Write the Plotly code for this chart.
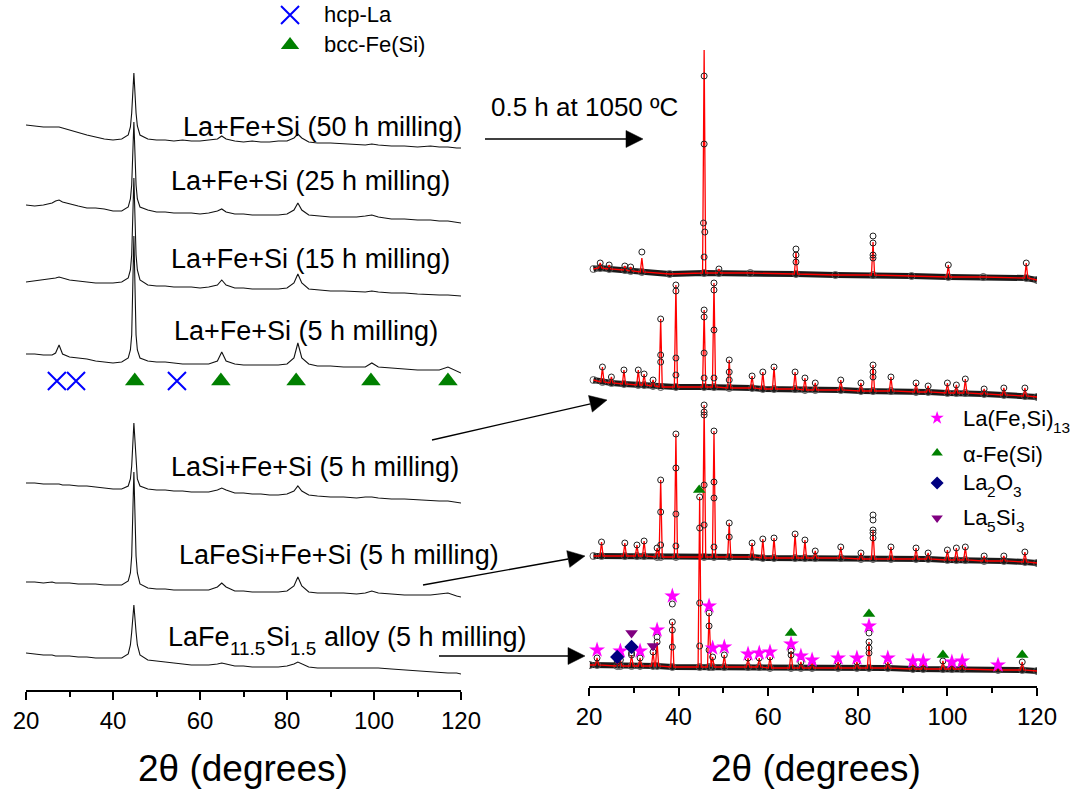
import numpy as np
import plotly.graph_objects as go

W, H = 1076, 796
FONT = "Liberation Sans, Arial, sans-serif"

# ---------------- Left panel: as-milled patterns (shared 2theta grid) ----------------
XL = [20, 22, 24, 26, 26.8, 27.6, 28.4, 30, 32, 34, 36, 38, 40, 42, 43.5, 44.0, 44.3, 44.8, 45.3, 45.6,
      46.2, 48, 50, 52, 54, 56, 58, 60, 62, 64, 65, 66, 68, 70, 72, 74, 76, 78, 80, 81.6,
      82.5, 83.4, 85, 87, 90, 93, 96, 98, 99.5, 101, 104, 107, 110, 113, 115, 117, 119, 120]

I_50H = [25, 24, 23, 23, 23, 23, 22, 20, 17, 15, 13, 11, 10, 11, 15, 23, 37, 77, 37, 24,
         15, 11, 10, 10, 9, 10, 9, 9, 10, 11, 14, 11, 9, 8, 9, 8, 8, 9, 9, 12,
         16, 12, 8, 7, 7, 6, 5, 5, 6, 5, 4, 4, 3, 4, 3, 3, 2, 2]
I_25H = [20, 19, 20, 22, 24, 25, 23, 21, 19, 17, 17, 16, 14, 14, 18, 26, 40, 103, 40, 26,
         18, 15, 13, 13, 12, 12, 12, 11, 12, 14, 16, 13, 11, 11, 10, 10, 10, 10, 11, 15,
         22, 15, 10, 9, 8, 8, 8, 9, 10, 8, 6, 6, 5, 5, 4, 4, 3, 2]
I_15H = [16, 17, 18, 19, 20, 21, 20, 18, 17, 16, 15, 15, 15, 16, 20, 28, 43, 120, 43, 28,
         18, 13, 12, 12, 11, 11, 11, 10, 11, 13, 18, 13, 10, 10, 9, 9, 9, 9, 10, 15,
         24, 15, 9, 8, 7, 7, 6, 6, 7, 6, 5, 5, 4, 3, 3, 3, 2, 2]
I_5H = [21, 21, 20, 20, 22, 30, 21, 18, 17, 16, 14, 13, 12, 13, 17, 25, 40, 139, 40, 25,
        17, 14, 13, 13, 12, 11, 11, 11, 11, 14, 23, 14, 11, 10, 10, 10, 10, 10, 11, 17,
        32, 17, 11, 9, 9, 8, 8, 8, 12, 8, 7, 6, 5, 5, 5, 8, 4, 2]
I_LASI = [22, 22, 21, 21, 21, 21, 20, 20, 19, 19, 18, 17, 16, 16, 19, 26, 39, 82, 39, 26,
          19, 16, 15, 15, 14, 14, 13, 13, 13, 15, 17, 15, 12, 12, 11, 11, 10, 10, 11, 14,
          19, 14, 10, 9, 8, 8, 7, 8, 8, 7, 6, 6, 5, 4, 4, 4, 3, 2]
I_LAFESI = [18, 18, 17, 18, 17, 17, 17, 17, 16, 16, 16, 15, 15, 15, 19, 27, 44, 128, 44, 27,
            16, 12, 11, 11, 10, 10, 10, 10, 10, 13, 17, 13, 9, 9, 8, 8, 8, 8, 9, 14,
            23, 14, 8, 7, 7, 7, 6, 7, 9, 7, 6, 5, 5, 5, 6, 7, 4, 3]
I_ALLOY = [23, 22, 21, 21, 20, 20, 20, 20, 19, 19, 18, 18, 18, 18, 22, 31, 44, 71, 44, 31,
           21, 16, 15, 14, 13, 12, 11, 11, 11, 12, 13, 12, 10, 10, 9, 9, 9, 9, 10, 12,
           14, 12, 9, 8, 8, 8, 8, 8, 8, 8, 7, 6, 5, 4, 4, 3, 3, 2]

LEFT_SERIES = [I_50H, I_25H, I_15H, I_5H, I_LASI, I_LAFESI, I_ALLOY]
LEFT_OFFSETS = [540, 465, 392, 315, 185, 90, 14]
# label pieces: (text, is_subscript)
LEFT_LABELS = [
    [("La+Fe+Si (50 h milling)", False)],
    [("La+Fe+Si (25 h milling)", False)],
    [("La+Fe+Si (15 h milling)", False)],
    [("La+Fe+Si (5 h milling)", False)],
    [("LaSi+Fe+Si (5 h milling)", False)],
    [("LaFeSi+Fe+Si (5 h milling)", False)],
    [("LaFe", False), ("11.5", True), ("Si", False), ("1.5", True), (" alloy (5 h milling)", False)],
]

# reflection markers (left)
HCP_LA_POS = [27.1, 31.5, 54.7]
BCC_FE_POS = [45.0, 64.8, 82.1, 99.3, 117.0]

# ---------------- Right panel: annealed patterns ----------------
# A: 0.5 h at 1050 C
A_BG_X = [21, 38, 56, 75, 92, 108, 120]
A_BG_I = [13, 8, 9, 7, 6, 5, 2]
A_PK_X = [22.5, 24.5, 28.0, 29.3, 31.8, 45.7, 49.0, 66.2, 83.4, 100.2, 117.6]
A_PK_BG = [14, 13, 12, 11, 10, 9, 9, 8, 7, 5, 4]
A_PK_TOP = [19, 17, 16, 15, 24, 232, 13, 30, 40, 17, 19]
A_OBS_X = [22.5, 24.5, 28.0, 29.3, 31.8, 45.7, 45.7, 45.55, 45.85, 45.7, 49.0, 66.2, 66.2, 66.2,
           83.4, 83.4, 83.4, 83.4, 100.2, 117.6]
A_OBS_I = [19, 17, 16, 15, 30, 206, 138, 59, 50, 25, 13, 33, 27, 20, 46, 39, 27, 24, 17, 19]

# B
B_BG_X = [21, 120]
B_BG_I = [20, 3]
B_PK_X = [23.0, 25.0, 27.8, 31.0, 32.3, 34.3, 36.0, 39.4, 45.7, 47.9, 51.3, 56.4, 58.8, 61.3, 66.0,
          68.2, 70.5, 76.2, 80.7, 83.4, 87.4, 93.0, 95.7, 100.0, 102.0, 104.0, 108.2, 112.6, 117.3]
B_PK_BG = [18, 17, 16, 15, 15, 14, 13, 13, 13, 13, 12, 12, 11, 11, 11,
           10, 10, 10, 9, 9, 9, 8, 8, 7, 7, 7, 6, 5, 4]
B_PK_TOP = [33, 23, 30, 30, 26, 20, 81, 115, 90, 117, 40, 24, 28, 33, 28,
            22, 17, 20, 17, 35, 23, 17, 14, 17, 15, 21, 11, 12, 12]
B_OBS_X = [36.0, 36.0, 39.4, 39.4, 39.4, 45.7, 45.7, 45.7, 47.9, 47.9, 47.9, 51.3, 51.3, 83.4, 83.4]
B_OBS_I = [45, 38, 109, 42, 25, 83, 47, 22, 110, 70, 22, 28, 20, 28, 23]

# C
C_BG_X = [21, 120]
C_BG_I = [10, 3]
C_PK_X = [22.8, 28.0, 30.7, 32.3, 35.2, 36.0, 39.4, 45.7, 47.9, 51.3, 56.4, 58.8, 61.3, 66.0,
          68.2, 70.5, 76.2, 80.7, 83.4, 87.4, 93.0, 95.7, 100.0, 102.0, 104.0, 108.2, 112.6, 117.3]
C_PK_BG = [10, 10, 10, 10, 9, 9, 9, 9, 9, 9, 9, 8, 8, 8,
           8, 8, 8, 7, 7, 7, 7, 7, 6, 6, 6, 5, 5, 4]
C_PK_TOP = [24, 23, 21, 25, 18, 86, 132, 161, 135, 43, 23, 27, 28, 32,
            26, 15, 19, 13, 36, 19, 18, 13, 16, 18, 19, 10, 10, 14]
C_OBS_X = [36.0, 36.0, 39.4, 39.4, 39.4, 45.7, 45.7, 45.7, 45.7, 47.9, 47.9, 47.9, 51.3,
           83.4, 83.4, 83.4, 83.4]
C_OBS_I = [54, 21, 98, 52, 20, 154, 151, 81, 41, 84, 68, 19, 29, 51, 46, 33, 28]

# D: LaFe11.5Si1.5 alloy annealed
D_BG_X = [20.2, 120]
D_BG_I = [9, 3]
D_PK_X = [21.8, 26.3, 27.0, 29.5, 31.4, 34.3, 35.2, 38.6, 44.7, 46.8, 47.6, 50.2, 55.5, 58.0, 60.4,
          65.1, 67.3, 69.8, 75.6, 79.8, 82.5, 86.7, 92.3, 94.6, 99.0, 101.0, 103.3, 111.3, 116.7]
D_PK_BG = [9, 8, 8, 8, 8, 8, 8, 7, 7, 7, 7, 7, 7, 7, 6,
           6, 6, 6, 6, 6, 6, 6, 5, 5, 5, 5, 5, 4, 4]
D_PK_TOP = [16, 12, 14, 19, 16, 22, 32, 52, 177, 61, 17, 19, 16, 16, 17,
            23, 12, 11, 12, 12, 32, 12, 10, 10, 13, 10, 10, 8, 12]
D_OBS_X = [29.5, 35.2, 38.6, 38.6, 38.6, 44.7, 44.7, 44.7, 46.8, 46.8, 65.1, 82.5, 82.5, 82.5]
D_OBS_I = [21, 37, 70, 44, 27, 146, 71, 28, 48, 24, 19, 41, 26, 21]

RIGHT_OFFSETS = [404, 286, 120, 12]

# phase markers on pattern D (heights in pattern-D intensity units)
STAR_X = [21.8, 27.0, 31.4, 35.2, 38.6, 46.8, 47.6, 50.2, 55.5, 58.0, 60.4, 65.1, 67.3, 69.8,
          75.6, 79.8, 82.5, 86.7, 92.3, 94.6, 101.0, 103.3, 111.3]
STAR_I = [24, 23, 23, 44, 78, 68, 26, 27, 20, 21, 22, 30, 18, 14, 16, 16, 48, 16, 13, 13, 12, 13, 9]
FE_X = [44.6, 65.1, 82.5, 99.0, 116.7]
FE_I = [184, 41, 60, 19, 19]
LA2O3_X = [26.3, 29.5]
LA2O3_I = [17, 27]
LA5SI3_X = [29.5, 34.3]
LA5SI3_I = [41, 28]

RIGHT_LEGEND = [
    [("La(Fe,Si)", False), ("13", True)],
    [("α-Fe(Si)", False)],
    [("La", False), ("2", True), ("O", False), ("3", True)],
    [("La", False), ("5", True), ("Si", False), ("3", True)],
]

MAGENTA, GREEN, BLUE, NAVY, PURPLE = "#FF00FF", "#008000", "#0000FF", "#000080", "#800080"

# Arial / Liberation Sans advance widths (em) for the characters used in split labels
CW = {'L': .556, 'a': .556, 'F': .611, 'e': .556, 'S': .667, 'i': .222, 'O': .778, '(': .333, ')': .333,
      ',': .278, '.': .278, ' ': .278, 'l': .222, 'o': .556, 'y': .5, 'h': .556, 'm': .833, 'n': .556,
      'g': .556, '+': .584, '-': .333, 'α': .578}
for d in "0123456789":
    CW[d] = .556


def px(x):
    return x / W


def py(y):
    return 1 - y / H


def rich_text(pieces, x0, yc, size, sub_drop):
    out = []
    x = x0
    for txt, sub in pieces:
        s = size * 0.7 if sub else size
        lead = len(txt) - len(txt.lstrip(" "))
        x += lead * CW[' '] * s
        t = txt.strip(" ")
        out.append(dict(text=t, x=px(x), y=py(yc + (sub_drop if sub else 0)), xref="paper", yref="paper",
                        xanchor="left", yanchor="middle", showarrow=False, borderpad=0,
                        font=dict(family=FONT, size=s, color="black")))
        x += sum(CW.get(c, .556) for c in t) * s
    return out


fig = go.Figure()

# ---- left curves
for ints, off in zip(LEFT_SERIES, LEFT_OFFSETS):
    fig.add_trace(go.Scatter(x=XL, y=[off + v for v in ints], mode="lines",
                             line=dict(color="#111111", width=1.1), xaxis="x", yaxis="y",
                             hoverinfo="skip"))

# reflection markers row (left)
ROW_Y = 309
XMARK = dict(symbol="x-thin-open", size=18, color=BLUE, line=dict(color=BLUE, width=2))
fig.add_trace(go.Scatter(x=HCP_LA_POS, y=[ROW_Y] * len(HCP_LA_POS), mode="markers",
                         marker=XMARK, xaxis="x", yaxis="y"))
fig.add_trace(go.Scatter(x=BCC_FE_POS, y=[ROW_Y] * len(BCC_FE_POS), mode="markers",
                         marker=dict(symbol="triangle-up", size=17, color=GREEN), xaxis="x", yaxis="y"))

# top-left legend markers
fig.add_trace(go.Scatter(x=[80.7], y=[675], mode="markers", marker=XMARK,
                         xaxis="x", yaxis="y", cliponaxis=False))
fig.add_trace(go.Scatter(x=[80.7], y=[645], mode="markers",
                         marker=dict(symbol="triangle-up", size=16, color=GREEN),
                         xaxis="x", yaxis="y", cliponaxis=False))

# ---- right patterns
RIGHT = [
    (A_BG_X, A_BG_I, A_PK_X, A_PK_BG, A_PK_TOP, A_OBS_X, A_OBS_I, False),
    (B_BG_X, B_BG_I, B_PK_X, B_PK_BG, B_PK_TOP, B_OBS_X, B_OBS_I, True),
    (C_BG_X, C_BG_I, C_PK_X, C_PK_BG, C_PK_TOP, C_OBS_X, C_OBS_I, True),
    (D_BG_X, D_BG_I, D_PK_X, D_PK_BG, D_PK_TOP, D_OBS_X, D_OBS_I, True),
]
HW = 0.35
for (bgx, bgi, pkx, pkb, pkt, obx, obi, tops), off in zip(RIGHT, RIGHT_OFFSETS):
    band = sorted(list(zip(bgx, bgi)) + list(zip(pkx, pkb)))
    fit = list(zip(bgx, bgi))
    for p, b, t in zip(pkx, pkb, pkt):
        fit += [(p - HW, b), (p, t), (p + HW, b)]
    fit.sort()
    fig.add_trace(go.Scatter(x=[a for a, _ in band], y=[off + b for _, b in band], mode="lines+markers",
                             line=dict(color="#1a1a1a", width=6),
                             marker=dict(symbol="circle-open", size=7, color="#555555", line=dict(width=1)),
                             xaxis="x2", yaxis="y2"))
    fig.add_trace(go.Scatter(x=[a for a, _ in fit], y=[off + b for _, b in fit], mode="lines",
                             line=dict(color="#FF0000", width=1.3), xaxis="x2", yaxis="y2"))
    cx = (list(pkx) if tops else []) + list(obx)
    cy = (list(pkt) if tops else []) + list(obi)
    fig.add_trace(go.Scatter(x=cx, y=[off + v for v in cy], mode="markers",
                             marker=dict(symbol="circle-open", size=6, color="#222222", line=dict(width=1)),
                             xaxis="x2", yaxis="y2"))

offD = RIGHT_OFFSETS[3]
fig.add_trace(go.Scatter(x=STAR_X, y=[offD + v for v in STAR_I], mode="markers",
                         marker=dict(symbol="star", size=12, color=MAGENTA), xaxis="x2", yaxis="y2"))
fig.add_trace(go.Scatter(x=FE_X, y=[offD + v for v in FE_I], mode="markers",
                         marker=dict(symbol="triangle-up", size=11, color=GREEN), xaxis="x2", yaxis="y2"))
fig.add_trace(go.Scatter(x=LA2O3_X, y=[offD + v for v in LA2O3_I], mode="markers",
                         marker=dict(symbol="diamond", size=11, color=NAVY), xaxis="x2", yaxis="y2"))
fig.add_trace(go.Scatter(x=LA5SI3_X, y=[offD + v for v in LA5SI3_I], mode="markers",
                         marker=dict(symbol="triangle-down", size=11, color=PURPLE), xaxis="x2", yaxis="y2"))

# right legend markers
LEG_X = 97.7
fig.add_trace(go.Scatter(x=[LEG_X] * 4, y=[268, 233, 203, 168], mode="markers",
                         marker=dict(symbol=["star", "triangle-up", "diamond", "triangle-down"], size=10,
                                     color=[MAGENTA, GREEN, NAVY, PURPLE]),
                         xaxis="x2", yaxis="y2", cliponaxis=False))

# ---- annotations
ann = []
LABEL_POS = [(182, 127), (170, 181), (170, 259), (173, 331), (170, 467), (178, 555), (167, 637)]
for pieces, (lx, ly) in zip(LEFT_LABELS, LABEL_POS):
    ann += rich_text(pieces, lx, ly, 27, 11)
for pieces, ly in zip(RIGHT_LEGEND, [418, 454, 482, 517]):
    ann += rich_text(pieces, 962, ly, 22, 9)
ann.append(dict(text="0.5 h at 1050 ºC", x=px(680), y=py(107), xref="paper", yref="paper",
                xanchor="right", yanchor="middle", showarrow=False,
                font=dict(family=FONT, size=26, color="black")))
ann.append(dict(text="hcp-La", x=px(322), y=py(15), xref="paper", yref="paper", xanchor="left",
                yanchor="middle", showarrow=False, font=dict(family=FONT, size=22, color="black")))
ann.append(dict(text="bcc-Fe(Si)", x=px(322), y=py(45), xref="paper", yref="paper", xanchor="left",
                yanchor="middle", showarrow=False, font=dict(family=FONT, size=22, color="black")))
for cx in (243, 816):
    ann.append(dict(text="2θ (degrees)", x=px(cx), y=py(768), xref="paper", yref="paper",
                    xanchor="center", yanchor="middle", showarrow=False,
                    font=dict(family=FONT, size=37, color="black")))

# ---- arrows as shapes (line + filled head)
shapes = []
HEAD_L, HEAD_HW = 17, 8.5
for (tx, ty), (sx, sy) in [((643, 139), (485, 139)), ((607, 400), (432, 440)),
                           ((585, 556), (423, 585)), ((585, 656), (439, 656))]:
    dx, dy = tx - sx, ty - sy
    n = (dx * dx + dy * dy) ** 0.5
    ux, uy = dx / n, dy / n
    bx, by = tx - ux * HEAD_L, ty - uy * HEAD_L
    shapes.append(dict(type="line", xref="paper", yref="paper", x0=px(sx), y0=py(sy), x1=px(bx), y1=py(by),
                       line=dict(color="black", width=1.3)))
    p1 = (bx - uy * HEAD_HW, by + ux * HEAD_HW)
    p2 = (bx + uy * HEAD_HW, by - ux * HEAD_HW)
    path = "M {:.5f},{:.5f} L {:.5f},{:.5f} L {:.5f},{:.5f} Z".format(
        px(tx), py(ty), px(p1[0]), py(p1[1]), px(p2[0]), py(p2[1]))
    shapes.append(dict(type="path", xref="paper", yref="paper", path=path, fillcolor="black",
                       line=dict(color="black", width=0.5)))

xa = dict(range=[20, 120], tick0=20, dtick=20, ticks="outside", ticklen=8, tickwidth=1.5,
          tickcolor="black", showline=True, linecolor="black", linewidth=1.5, showgrid=False,
          zeroline=False, tickfont=dict(family=FONT, size=24, color="black"), automargin=False,
          minor=dict(ticks="outside", ticklen=5, tickwidth=1.5, tickcolor="black", dtick=10, tick0=20),
          fixedrange=True)
fig.update_layout(
    width=W, height=H, margin=dict(l=0, r=0, t=0, b=0, pad=0, autoexpand=False),
    paper_bgcolor="white", plot_bgcolor="white", showlegend=False,
    xaxis=dict(domain=[26 / W, 461 / W], anchor="y", **xa),
    yaxis=dict(domain=[(H - 690) / H, 1], range=[0, 690], visible=False, fixedrange=True,
               automargin=False),
    xaxis2=dict(domain=[589 / W, 1037 / W], anchor="y2", **xa),
    yaxis2=dict(domain=[(H - 686) / H, 1], range=[0, 686], visible=False, fixedrange=True,
                automargin=False),
    annotations=ann, shapes=shapes,
)

fig.write_html("out.html", config={"displayModeBar": False},
               post_script="document.body.style.margin='0';document.body.style.overflow='hidden';")
